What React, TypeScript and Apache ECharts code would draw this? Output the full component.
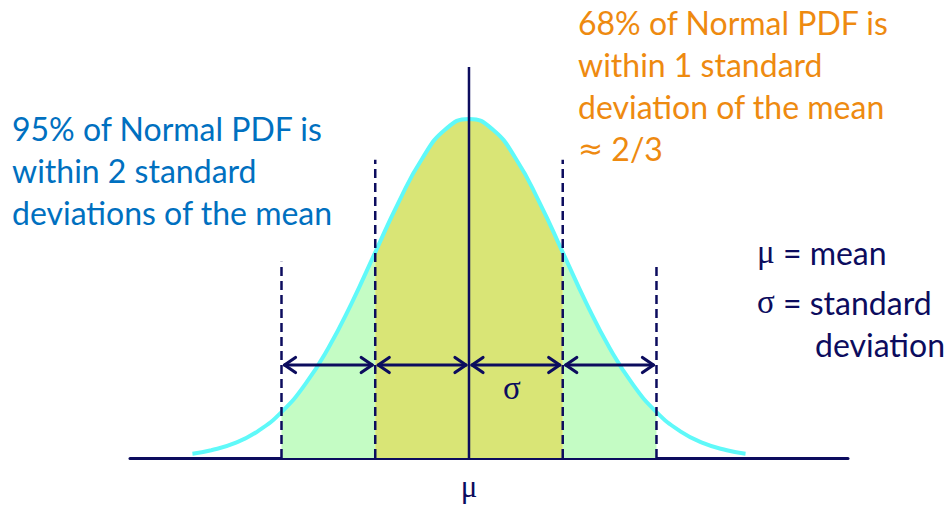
import React, { useEffect, useRef } from "react";
import * as echarts from "echarts";

// Curve: x in standard deviations from the mean, y = density
const curveX = [-2.95, -2.75, -2.5, -2.25, -2, -1.75, -1.5, -1.25, -1, -0.75, -0.5, -0.25, 0, 0.25, 0.5, 0.75, 1, 1.25, 1.5, 1.75, 2, 2.25, 2.5, 2.75, 2.95];
const curveY = [0.0051, 0.0091, 0.0175, 0.0317, 0.054, 0.0863, 0.1295, 0.1826, 0.242, 0.3011, 0.3521, 0.3867, 0.3989, 0.3867, 0.3521, 0.3011, 0.242, 0.1826, 0.1295, 0.0863, 0.054, 0.0317, 0.0175, 0.0091, 0.0051];

// Boundaries (σ units) of the vertical guides and their top heights
const guideX = [-2, -1, 0, 1, 2];
const guideTop = [0.231, 0.351, 0.46, 0.351, 0.227];
const guideDashed = [true, true, false, true, true];

// Double-headed arrows between consecutive boundaries
const arrowFrom = [-2, -1, 0, 1];
const arrowTo = [-1, 0, 1, 2];
const arrowY = 0.1094;

const blueText = ["95% of Normal PDF is", "within 2 standard", "deviations of the mean"];
const orangeText = ["68% of Normal PDF is", "within 1 standard", "deviation of the mean", "{s|≈} 2/3"];

const NAVY = "#0c0c5e";
const FONT = "Lato";

export default function App() {
  const ref = useRef<HTMLDivElement>(null);
  useEffect(() => {
    if (!ref.current) return;
    const chart = echarts.init(ref.current, undefined, { renderer: "svg" });
    const pts = curveX.map((x, i) => [x, curveY[i]]);
    const inner = pts.filter((p) => p[0] >= -1 && p[0] <= 1);
    const outerL = pts.filter((p) => p[0] >= -2 && p[0] <= -1);
    const outerR = pts.filter((p) => p[0] >= 1 && p[0] <= 2);
    const guides = guideX.map((x, i) => [x, guideTop[i], guideDashed[i] ? 1 : 0]);
    const arrows = arrowFrom.map((a, i) => [a, arrowTo[i], arrowY]);

    const area = (name: string, data: number[][], color: string) => ({
      name,
      type: "line",
      data,
      smooth: true,
      symbol: "none",
      lineStyle: { width: 0 },
      areaStyle: { color, opacity: 1 },
      z: 1,
      silent: true,
    });

    const textLines = (lines: string[], x: number, y0: number, color: string) =>
      lines.map((t, i) => ({
        type: "text",
        x,
        y: y0 + i * 42,
        z: 100,
        style: {
          text: t,
          font: `32px ${FONT}`,
          fill: color,
          textAlign: "left",
          textVerticalAlign: "middle",
          rich: { s: { fontFamily: "DejaVu Sans", fontSize: 30, fill: color } },
        },
      }));

    chart.setOption({
      animation: false,
      grid: { left: 130, right: 103, top: 67, bottom: 47 },
      xAxis: {
        type: "value",
        min: -3.616,
        max: 4.043,
        axisLine: { show: true, onZero: true, lineStyle: { color: NAVY, width: 3 } },
        axisTick: { show: false },
        axisLabel: { show: false },
        splitLine: { show: false },
      },
      yAxis: {
        type: "value",
        min: 0,
        max: 0.46,
        show: false,
        splitLine: { show: false },
      },
      series: [
        area("outerL", outerL, "#c4fcc4"),
        area("outerR", outerR, "#c4fcc4"),
        area("inner", inner, "#d9e576"),
        {
          name: "curve",
          type: "line",
          data: pts,
          smooth: true,
          symbol: "none",
          lineStyle: { color: "#5ff9f9", width: 4 },
          z: 2,
          silent: true,
        },
        {
          name: "guides",
          type: "custom",
          data: guides,
          encode: { x: 0, y: 1 },
          clip: false,
          z: 3,
          renderItem: (params: any, api: any) => {
            const x = api.value(0);
            const top = api.value(1);
            const dashed = api.value(2) === 1;
            const p0 = api.coord([x, 0]);
            const p1 = api.coord([x, top]);
            return {
              type: "line",
              shape: { x1: p0[0], y1: p0[1], x2: p1[0], y2: p1[1] },
              style: {
                stroke: NAVY,
                lineWidth: dashed ? 2.5 : 2.5,
                lineDash: dashed ? [9, 5] : null,
              },
            };
          },
        },
        {
          name: "arrows",
          type: "custom",
          data: arrows,
          encode: { x: [0, 1], y: 2 },
          clip: false,
          z: 4,
          renderItem: (params: any, api: any) => {
            const a = api.coord([api.value(0), api.value(2)]);
            const b = api.coord([api.value(1), api.value(2)]);
            const gap = 3;
            const ax = a[0] + gap;
            const bx = b[0] - gap;
            const y = a[1];
            const hl = 11;
            const hw = 7.5;
            const st = { stroke: NAVY, lineWidth: 3.2, lineCap: "round", lineJoin: "round", fill: null };
            return {
              type: "group",
              children: [
                { type: "line", shape: { x1: ax, y1: y, x2: bx, y2: y }, style: st },
                { type: "polyline", shape: { points: [[ax + hl, y - hw], [ax, y], [ax + hl, y + hw]] }, style: st },
                { type: "polyline", shape: { points: [[bx - hl, y - hw], [bx, y], [bx - hl, y + hw]] }, style: st },
              ],
            };
          },
        },
      ],
      graphic: [
        ...textLines(blueText, 12, 128, "#0070c0"),
        ...textLines(orangeText, 578, 22, "#ee8a10"),
        {
          type: "text",
          x: 757,
          y: 252,
          z: 100,
          style: {
            text: "{g|μ} = mean",
            font: `32px ${FONT}`,
            fill: NAVY,
            textVerticalAlign: "middle",
            rich: { g: { fontFamily: "Liberation Serif", fontSize: 33, fill: NAVY } },
          },
        },
        {
          type: "text",
          x: 757,
          y: 302,
          z: 100,
          style: {
            text: "{g|σ} = standard",
            font: `32px ${FONT}`,
            fill: NAVY,
            textVerticalAlign: "middle",
            rich: { g: { fontFamily: "Liberation Serif", fontSize: 33, fill: NAVY } },
          },
        },
        {
          type: "text",
          x: 815,
          y: 344,
          z: 100,
          style: { text: "deviation", font: `32px ${FONT}`, fill: NAVY, textVerticalAlign: "middle" },
        },
        {
          type: "text",
          x: 512,
          y: 388,
          z: 100,
          style: { text: "σ", font: "33px 'Liberation Serif'", fill: NAVY, textAlign: "center", textVerticalAlign: "middle" },
        },
        {
          type: "text",
          x: 469,
          y: 486,
          z: 100,
          style: { text: "μ", font: "31px 'Liberation Serif'", fill: NAVY, textAlign: "center", textVerticalAlign: "middle" },
        },
      ],
    });
    return () => chart.dispose();
  }, []);
  return <div ref={ref} style={{ width: 951, height: 505, position: "absolute", left: 0, top: 0 }} />;
}
